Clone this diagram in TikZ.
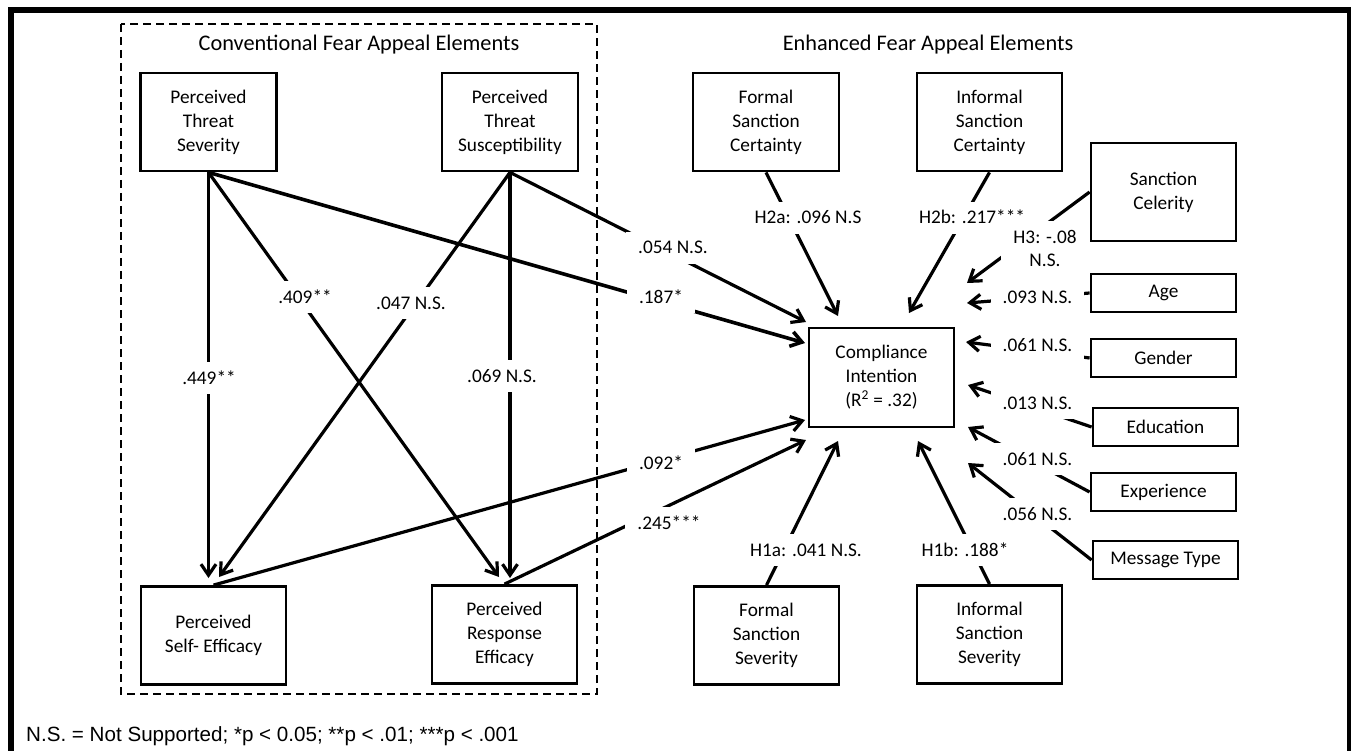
\documentclass[tikz,border=0pt]{standalone}
\usepackage{fontspec}
\setmainfont{Carlito}
\newfontfamily\footfont{Liberation Sans}
\usetikzlibrary{arrows.meta}
\newcommand\boxfont{\fontsize{19.3}{24}\selectfont}
\newcommand\titfont{\fontsize{22.3}{26}\selectfont}
\begin{document}
\begin{tikzpicture}[x=1pt,y=-1pt,
  box/.style={draw, line width=2.8pt, align=center, inner sep=0pt, font=\boxfont, minimum height=98pt},
  sbox/.style={draw, line width=2.8pt, align=center, inner sep=0pt, font=\boxfont, minimum width=145pt, minimum height=38pt},
  arr/.style={line width=3.2pt, -{Straight Barb[length=11pt,width=15pt]}},
  lab/.style={fill=white, inner xsep=12pt, inner ysep=9pt, text height=13pt, text depth=1pt, font=\boxfont},
  frame/.style={line width=6.5pt},
  group/.style={line width=2.5pt, dash pattern=on 8pt off 5pt}]
\useasboundingbox (0,0) rectangle (1351,751);
\fill[white] (0,0) rectangle (1351,751);
% frame
\draw[frame] (11,760) -- (11,10) -- (1350,10) -- (1350,760);
% dashed group
\draw[group] (121,24) rectangle (597,694);
% titles
\node[font=\titfont] (titA) at (359,45) {Conventional Fear Appeal Elements};
\node[font=\titfont] (titB) at (928,45) {Enhanced Fear Appeal Elements};
% boxes
\node[box, minimum width=136pt] (pts) at (208.5,122) {Perceived\\Threat\\Severity};
\node[box, minimum width=136pt] (ptsus) at (510,122) {Perceived\\Threat\\Susceptibility};
\node[box, minimum width=146pt] (fsc) at (766,122) {Formal\\Sanction\\Certainty};
\node[box, minimum width=145pt] (isc) at (989.5,122) {Informal\\Sanction\\Certainty};
\node[box, minimum width=145pt] (scel) at (1163.5,192) {Sanction\\Celerity};
\node[sbox] (age) at (1163.5,293) {Age};
\node[sbox] (gender) at (1163.5,358) {Gender};
\node[sbox] (edu) at (1165.5,427) {Education};
\node[sbox] (exp) at (1163.5,492) {Experience};
\node[sbox] (msg) at (1165.5,560) {Message Type};
\node[box, minimum width=145pt, minimum height=99pt] (ci) at (881.5,377.5) {Compliance\\Intention\\(R\textsuperscript{2} = .32)};
\node[box, minimum width=145pt] (fss) at (766.5,635.5) {Formal\\Sanction\\Severity};
\node[box, minimum width=145pt] (iss) at (989.5,634.5) {Informal\\Sanction\\Severity};
\node[box, minimum width=145pt] (pse) at (213.5,635.5) {Perceived\\Self- Efficacy};
\node[box, minimum width=145pt] (pre) at (504.5,634.5) {Perceived\\Response\\Efficacy};
% arrow tips
\coordinate (t449) at (208.5,578);
\coordinate (t409) at (499,577);
\coordinate (t187) at (805,343);
\coordinate (t047) at (219,577);
\coordinate (t069) at (510,578);
\coordinate (t054) at (806,322);
\coordinate (t092) at (805,420);
\coordinate (t245) at (806,440);
\coordinate (th2a) at (838,316);
\coordinate (th2b) at (909,313);
\coordinate (th3) at (967,283);
\coordinate (tage) at (967,303);
\coordinate (tgen) at (966,342);
\coordinate (tedu) at (968,385);
\coordinate (texp) at (968,427);
\coordinate (tmsg) at (968,463);
\coordinate (th1a) at (838,441);
\coordinate (th1b) at (918,441);
% connectors
\draw[arr] (pts.south) -- (t449);
\draw[arr] (pts.south) -- (t409);
\draw[arr, line width=3.6pt] (pts.south) -- (t187);
\draw[arr] (ptsus.south) -- (t047);
\draw[arr] (ptsus.south) -- (t069);
\draw[arr] (ptsus.south) -- (t054);
\draw[arr] (pse.north) -- (t092);
\draw[arr] (pre.north) -- (t245);
\draw[arr] (fsc.south) -- (th2a);
\draw[arr] (isc.south) -- (th2b);
\draw[arr] (scel.west) -- (th3);
\draw[arr] (age.west) -- (tage);
\draw[arr] (gender.west) -- (tgen);
\draw[arr] (edu.west) -- (tedu);
\draw[arr] (exp.west) -- (texp);
\draw[arr] (msg.west) -- (tmsg);
\draw[arr] (fss.north) -- (th1a);
\draw[arr] (iss.north) -- (th1b);
% labels
\node[lab] (l449) at (209,378) {.449**};
\node[lab] (l409) at (305,297) {.409**};
\node[lab] (l047) at (411,303) {.047 N.S.};
\node[lab] (l069) at (502,376) {.069 N.S.};
\node[lab] (l054) at (673,248) {.054 N.S.};
\node[lab] (l187) at (661,297) {.187*};
\node[lab] (l092) at (661,463) {.092*};
\node[lab] (l245) at (669,523) {.245***};
\node[lab] (lh2a) at (808,218) {H2a: .096 N.S};
\node[lab] (lh2b) at (972,218) {H2b: .217***};
\node[lab, align=center, text height=, text depth=, font=\fontsize{19.3}{23}\selectfont] (lh3) at (1045,248) {H3: -.08\\N.S.};
\node[lab] (lage) at (1037.5,297) {.093 N.S.};
\node[lab] (lgen) at (1037.5,345) {.061 N.S.};
\node[lab] (ledu) at (1037.5,403) {.013 N.S.};
\node[lab] (lexp) at (1037.5,459) {.061 N.S.};
\node[lab] (lmsg) at (1037.5,514) {.056 N.S.};
\node[lab] (lh1a) at (806,550) {H1a: .041 N.S.};
\node[lab] (lh1b) at (965,550) {H1b: .188*};
% footer
\node[anchor=west, inner sep=0pt, font=\footfont\fontsize{20.6}{24}\selectfont] (foot) at (26,736) {N.S. = Not Supported; *p < 0.05; **p < .01; ***p < .001};
\end{tikzpicture}
\end{document}
